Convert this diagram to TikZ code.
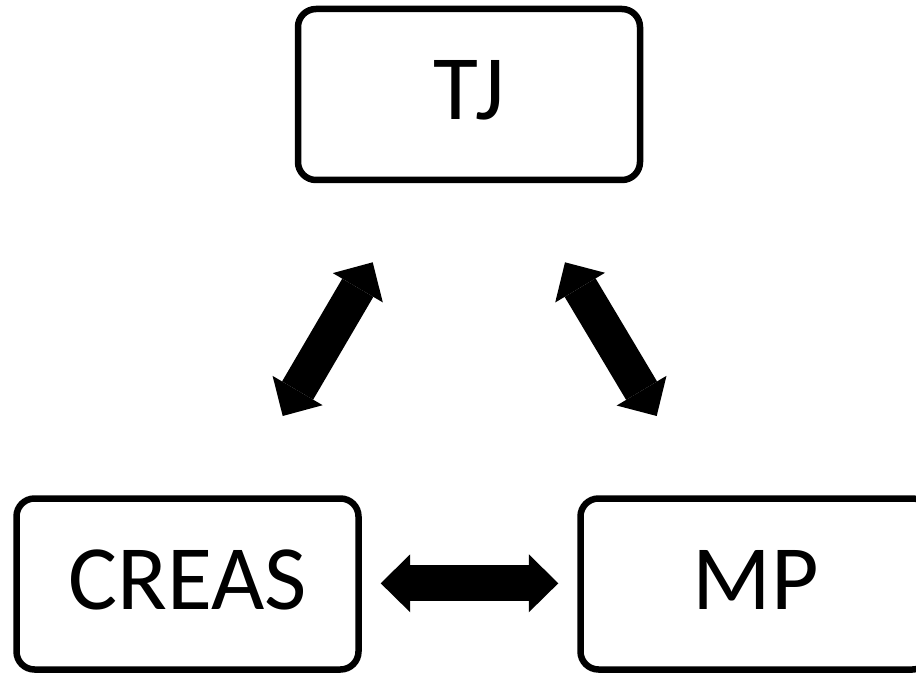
\documentclass[tikz,border=0pt]{standalone}
\usepackage{fontspec}
\setmainfont{Carlito}
\usetikzlibrary{arrows.meta}
\tikzset{
  box/.style={draw, line width=6.5pt, rounded corners=18pt,
    minimum width=342pt, minimum height=171pt, inner sep=0pt,
    font=\fontsize{92}{92}\selectfont, text height=58pt, text depth=8pt},
  bigarrow/.style={line width=36pt,
    {Triangle[length=29.5pt,width=58pt,line width=0pt]}-{Triangle[length=29.5pt,width=58pt,line width=0pt]}}
}
\begin{document}
\begin{tikzpicture}[x=1pt,y=-1pt]
\useasboundingbox (0,0) rectangle (916,674);
\node[box] (tj) at (469,94.5) {TJ};
\node[box] (creas) at (187.5,584) {CREAS};
\node[box, minimum width=350pt] (mp) at (755.5,584) {MP};
\coordinate (a1) at (282.7,416);
\coordinate (a2) at (372.7,262.3);
\coordinate (b1) at (565,262.3);
\coordinate (b2) at (656.7,416);
\coordinate (c1) at (380.7,583.3);
\coordinate (c2) at (558.3,583.3);
\draw[bigarrow] (a1) -- (a2);
\draw[bigarrow] (b1) -- (b2);
\draw[bigarrow] (c1) -- (c2);
\end{tikzpicture}
\end{document}
